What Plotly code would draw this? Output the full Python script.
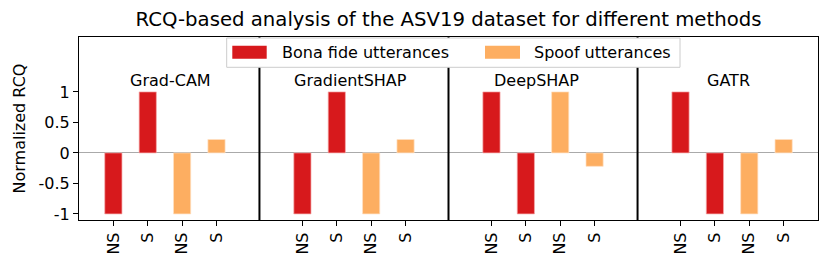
import plotly.graph_objects as go

methods = ["Grad-CAM", "GradientSHAP", "DeepSHAP", "GATR"]
tick_labels = ["NS", "S", "NS", "S"]
series_names = ["Bona fide utterances", "Spoof utterances"]
bona_fide = [[-1, 1], [-1, 1], [1, -1], [1, -1]]          # NS, S per method
spoof = [[-1, 0.22], [-1, 0.22], [1, -0.22], [-1, 0.22]]  # NS, S per method
y_ticks = [-1, -0.5, 0, 0.5, 1]
y_tick_labels = ["-1", "-0.5", "0", "0.5", "1"]

RED = "#d7191c"
ORANGE = "#fdae61"
FONT = "DejaVu Sans"
W, H = 830, 267
ML, MR, MT, MB = 79, 12, 37, 47
PW, PH = W - ML - MR, H - MT - MB


def px_x(x):
    return (x - ML) / PW


def px_y(y):
    return (H - MB - y) / PH


group_step = 5.5
bona_x, bona_y, spoof_x, spoof_y = [], [], [], []
tickvals, ticktext = [], []
for g in range(len(methods)):
    base = g * group_step
    for j in range(2):
        bona_x.append(base + j)
        bona_y.append(bona_fide[g][j])
        spoof_x.append(base + 2 + j)
        spoof_y.append(spoof[g][j])
    for j, lab in enumerate(tick_labels):
        tickvals.append(base + j)
        ticktext.append(lab)

fig = go.Figure()
fig.add_trace(go.Bar(x=bona_x, y=bona_y, width=0.5, name=series_names[0], showlegend=False,
                     marker=dict(color=RED, line=dict(color="rgba(245,170,170,0.9)", width=0.8))))
fig.add_trace(go.Bar(x=spoof_x, y=spoof_y, width=0.5, name=series_names[1], showlegend=False,
                     marker=dict(color=ORANGE, line=dict(color="rgba(255,225,195,0.9)", width=0.8))))

# separators between method groups
for g in range(len(methods) - 1):
    xs = g * group_step + 3 + (group_step - 3) / 2
    fig.add_shape(type="line", xref="x", yref="paper", x0=xs, x1=xs, y0=0, y1=1,
                  line=dict(color="black", width=2))

# legend box (drawn above the separators)
fig.add_shape(type="rect", xref="paper", yref="paper",
              x0=px_x(226.7), x1=px_x(680), y0=px_y(67.3), y1=px_y(38),
              fillcolor="white", line=dict(color="#cccccc", width=1))
legend_items = [(series_names[0], RED, 232.3, 266.7, 280), (series_names[1], ORANGE, 485, 520, 532.3)]
for name, col, sx0, sx1, tx in legend_items:
    fig.add_shape(type="rect", xref="paper", yref="paper",
                  x0=px_x(sx0), x1=px_x(sx1), y0=px_y(58.7), y1=px_y(45.7),
                  fillcolor=col, line=dict(width=0))
    fig.add_annotation(xref="paper", yref="paper", x=px_x(tx), y=px_y(52.2), text=name,
                       showarrow=False, xanchor="left", yanchor="middle",
                       font=dict(family=FONT, size=16, color="black"))

# method labels
label_nudge = [6, -3, -7, -4]
for g, m in enumerate(methods):
    fig.add_annotation(x=g * group_step + 1.5, y=1.18, xref="x", yref="y", text=m,
                       xshift=label_nudge[g],
                       showarrow=False, font=dict(family=FONT, size=16, color="black"),
                       yanchor="middle")

fig.add_annotation(xref="paper", yref="paper", x=0, y=0.5, xshift=-60, text="Normalized RCQ",
                   textangle=-90, showarrow=False, xanchor="center", yanchor="middle",
                   font=dict(family=FONT, size=16, color="black"))

fig.update_layout(
    width=W, height=H,
    margin=dict(l=ML, r=MR, t=MT, b=MB, autoexpand=False),
    paper_bgcolor="white", plot_bgcolor="white",
    font=dict(family=FONT, size=16, color="black"),
    title=dict(text="RCQ-based analysis of the ASV19 dataset for different methods",
               x=0.5, xref="paper", xanchor="center", y=1 - 19.5 / H, yanchor="middle",
               font=dict(family=FONT, size=19.7, color="black")),
    barmode="overlay",
    showlegend=False,
)
fig.update_xaxes(range=[-1, (len(methods) - 1) * group_step + 4], tickmode="array",
                 tickvals=tickvals, ticktext=ticktext, tickangle=-90, automargin=False,
                 ticks="outside", ticklen=5, tickcolor="black", tickwidth=1.2, showgrid=False,
                 showline=True, mirror=True, linecolor="black", linewidth=1.2,
                 zeroline=False, tickfont=dict(family=FONT, size=16))
fig.update_yaxes(range=[-1.1, 1.9], tickmode="array", tickvals=y_ticks,
                 ticktext=y_tick_labels, automargin=False,
                 ticks="outside", ticklen=5, tickcolor="black", tickwidth=1.2, showgrid=False,
                 showline=True, mirror=True, linecolor="black", linewidth=1.2,
                 zeroline=True, zerolinecolor="#aaaaaa", zerolinewidth=1,
                 tickfont=dict(family=FONT, size=16))

fig.write_html("out.html", config={"displayModeBar": False},
               post_script="document.body.style.margin='0';document.body.style.overflow='hidden';")
